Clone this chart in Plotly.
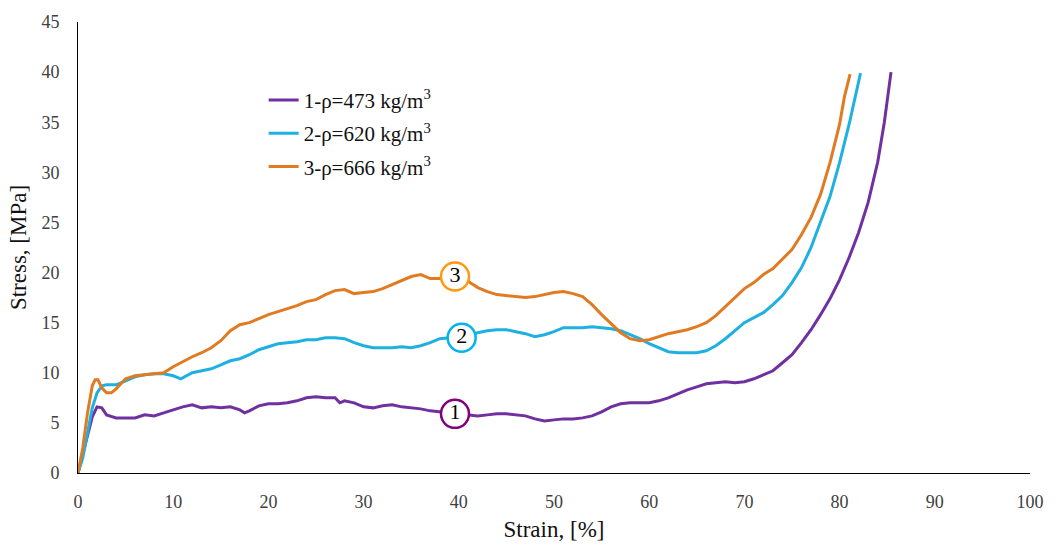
import plotly.graph_objects as go

# ---- data ----
x1 = [0, 0.5, 1.0, 1.5, 2.0, 2.5, 3.0, 4.0, 5.0, 6.0, 7.0, 8.0, 9.0, 10, 11, 12, 13, 14, 15, 16, 17, 17.5, 18, 19,
      20, 21, 22, 23, 24, 25, 26, 27, 27.5, 28, 29, 30, 31, 32, 33, 34, 35, 36, 37, 38, 39, 40, 41, 42, 43, 44,
      45, 46, 47, 48, 49, 50, 51, 52, 53, 54, 55, 56, 57, 58, 59, 60, 61, 62, 63, 64, 65, 66, 67, 68, 69, 70,
      71, 72, 73, 74, 75, 76, 77, 78, 79, 80, 81, 82, 83, 84, 84.7, 85.4]
y1 = [0, 1.8, 3.8, 5.6, 6.6, 6.5, 5.8, 5.5, 5.5, 5.5, 5.8, 5.7, 6.0, 6.3, 6.6, 6.8, 6.5, 6.6, 6.5, 6.6, 6.3, 6.0, 6.2, 6.7,
      6.9, 6.9, 7.0, 7.2, 7.5, 7.6, 7.5, 7.5, 7.0, 7.2, 7.0, 6.6, 6.5, 6.7, 6.8, 6.6, 6.5, 6.4, 6.2, 6.1, 6.0, 5.9, 5.8, 5.7, 5.8, 5.9,
      5.9, 5.8, 5.7, 5.4, 5.2, 5.3, 5.4, 5.4, 5.5, 5.7, 6.1, 6.6, 6.9, 7.0, 7.0, 7.0, 7.2, 7.5, 7.9, 8.3, 8.6, 8.9, 9.0, 9.1, 9.0, 9.1,
      9.4, 9.8, 10.2, 11.0, 11.8, 13.0, 14.3, 15.8, 17.4, 19.3, 21.5, 24.0, 27.0, 31.0, 35.0, 40.0]

x2 = [0, 0.5, 1.0, 1.5, 2.0, 2.5, 3, 4, 5, 6, 7, 8, 9, 10, 10.8, 11.5, 12, 13, 14, 15, 16, 17, 18, 19,
      20, 21, 22, 23, 24, 25, 26, 27, 28, 29, 30, 31, 32, 33, 34, 35, 36, 37, 38, 39, 40, 41, 42, 43, 44,
      45, 46, 47, 48, 49, 50, 51, 52, 53, 54, 55, 56, 57, 58, 59, 60, 61, 62, 63, 64, 65, 66, 67, 68, 69, 70,
      71, 72, 73, 74, 75, 76, 77, 78, 79, 80, 81, 82.2]
y2 = [0, 1.5, 4.0, 6.5, 8.0, 8.7, 8.8, 8.8, 9.2, 9.6, 9.8, 9.9, 9.9, 9.7, 9.4, 9.8, 10.0, 10.2, 10.4, 10.8, 11.2, 11.4, 11.8, 12.3,
      12.6, 12.9, 13.0, 13.1, 13.3, 13.3, 13.5, 13.5, 13.4, 13.0, 12.7, 12.5, 12.5, 12.5, 12.6, 12.5, 12.7, 13.0, 13.4, 13.5, 13.6,
      13.8, 14.0, 14.2, 14.3, 14.3, 14.1, 13.9, 13.6, 13.8, 14.1, 14.5, 14.5, 14.5, 14.6, 14.5, 14.4, 14.2, 13.8, 13.4, 12.9, 12.5,
      12.1, 12.0, 12.0, 12.0, 12.2, 12.7, 13.4, 14.2, 15.0, 15.5, 16.0, 16.8, 17.7, 19.0, 20.5, 22.5, 25.0, 27.6, 31.0, 34.8, 39.9]

x3 = [0, 0.5, 1.0, 1.5, 1.8, 2.1, 2.5, 3.0, 3.5, 4, 5, 6, 7, 8, 9, 10, 11, 12, 13, 14, 15, 16, 17, 18, 19,
      20, 21, 22, 23, 24, 25, 26, 27, 28, 29, 30, 31, 32, 33, 34, 35, 36, 37, 38, 39, 40, 41, 42, 43, 44,
      45, 46, 47, 48, 49, 50, 51, 52, 53, 54, 55, 56, 57, 58, 59, 60, 61, 62, 63, 64, 65, 66, 67, 68, 69, 70,
      71, 72, 73, 74, 75, 76, 77, 78, 79, 80, 80.5, 81.1]
y3 = [0, 2.5, 6.0, 8.7, 9.3, 9.3, 8.5, 8.0, 8.0, 8.4, 9.4, 9.7, 9.8, 9.9, 10.0, 10.6, 11.1, 11.6, 12.0, 12.5, 13.2, 14.2, 14.8,
      15.0, 15.4, 15.8, 16.1, 16.4, 16.7, 17.1, 17.3, 17.8, 18.2, 18.3, 17.9, 18.0, 18.1, 18.4, 18.8, 19.2, 19.6, 19.8, 19.4, 19.4,
      19.6, 19.5, 19.1, 18.5, 18.1, 17.8, 17.7, 17.6, 17.5, 17.6, 17.8, 18.0, 18.1, 17.9, 17.6, 16.8, 15.8, 14.9, 14.0, 13.4, 13.2,
      13.3, 13.6, 13.9, 14.1, 14.3, 14.6, 15.0, 15.7, 16.6, 17.4, 18.4, 19.0, 19.8, 20.4, 21.3, 22.3, 23.8, 25.5, 27.8, 31.0, 34.8,
      37.5, 39.8]

names = ["1-ρ=473 kg/m<sup>3</sup>", "2-ρ=620 kg/m<sup>3</sup>", "3-ρ=666 kg/m<sup>3</sup>"]
line_colors = ["#7030a0", "#1fb0e2", "#e07b22"]

label_text = ["1", "2", "3"]
label_x = [39.6, 40.3, 39.6]
label_y = [5.9, 13.5, 19.6]
label_colors = ["#800080", "#00b4f0", "#ff9a10"]

FONT = "Liberation Serif, Times New Roman, serif"

fig = go.Figure()
for xs, ys, nm, c, g in zip([x1, x2, x3], [y1, y2, y3], names, line_colors, ["a", "b", "c"]):
    fig.add_trace(go.Scatter(x=xs, y=ys, mode="lines", name=nm, legendgroup=g,
                             line=dict(color=c, width=3)))

for t, lx, ly, c in zip(label_text, label_x, label_y, label_colors):
    fig.add_trace(go.Scatter(x=[lx], y=[ly], mode="markers+text", text=[t], showlegend=False,
                             textposition="middle center", hoverinfo="skip",
                             textfont=dict(family=FONT, size=22, color="black"),
                             marker=dict(size=28, color="white", line=dict(color=c, width=2.5))))

fig.update_layout(
    width=1056, height=550,
    margin=dict(l=78, r=24, t=18, b=77),
    paper_bgcolor="white", plot_bgcolor="white",
    font=dict(family=FONT, color="#333333"),
    showlegend=True,
    legend=dict(x=0.195, y=0.872, xanchor="left", yanchor="top",
                bgcolor="rgba(255,255,255,0)", font=dict(family=FONT, size=21, color="#111111"),
                tracegroupgap=3, itemwidth=30),
    xaxis=dict(range=[0, 100], dtick=10, showgrid=False, zeroline=False, showline=True,
               linecolor="black", linewidth=1, ticks="", ticklabelstandoff=12,
               tickfont=dict(family=FONT, size=18, color="#404040"),
               title=dict(text="Strain, [%]", font=dict(family=FONT, size=23, color="#111111"), standoff=10)),
    yaxis=dict(range=[0, 45], dtick=5, showgrid=False, zeroline=False, showline=True,
               linecolor="black", linewidth=1, ticks="", ticklabelstandoff=14,
               tickfont=dict(family=FONT, size=18, color="#404040"),
               title=dict(text="Stress, [MPa]", font=dict(family=FONT, size=23, color="#111111"), standoff=8)),
)

fig.write_html("out.html")
